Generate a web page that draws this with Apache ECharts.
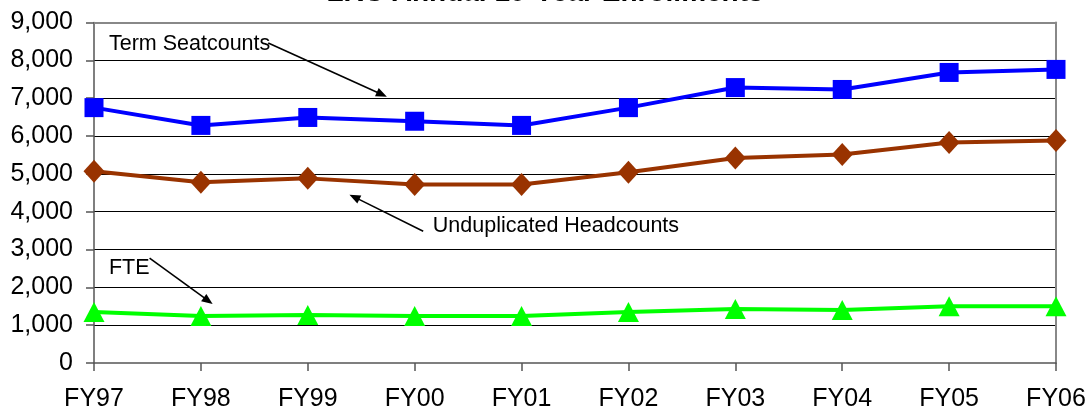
<!DOCTYPE html>
<html><head><meta charset="utf-8">
<script src="https://cdn.jsdelivr.net/npm/echarts@6/dist/echarts.min.js"></script>
<style>html,body{margin:0;padding:0;background:#fff}#c{width:1090px;height:412px}</style>
</head><body><div id="c"></div>
<script>
const categories = ['FY97','FY98','FY99','FY00','FY01','FY02','FY03','FY04','FY05','FY06'];
const termSeatcounts = [6750,6280,6490,6390,6280,6750,7280,7230,7680,7760];
const unduplicatedHeadcounts = [5070,4780,4880,4720,4720,5040,5420,5510,5830,5880];
const fte = [1350,1240,1270,1240,1240,1350,1430,1400,1500,1500];
const yMin = 0, yMax = 9000, yStep = 1000;
const titleText = 'LRC Annual 10-Year Enrollments';
// annotation anchors in data space: [category index, value]
const annotations = [
  {text:'Term Seatcounts', at:[0.14,8430], from:[1.63,8460], to:[2.74,7040]},
  {text:'Unduplicated Headcounts', at:[3.17,3610], from:[3.08,3480], to:[2.39,4450]},
  {text:'FTE', at:[0.14,2520], from:[0.52,2770], to:[1.11,1560]}
];

const FONT = "'Liberation Sans', Arial, sans-serif";
const chart = echarts.init(document.getElementById('c'), null, {renderer:'canvas'});
const option = {
  animation: false,
  backgroundColor: '#fff',
  title: {text: titleText, left: 'center', top: -26,
    textStyle: {fontFamily: FONT, fontSize: 28, fontWeight: 'bold', color: '#000'}},
  grid: {left: 94, right: 34, top: 22.5, bottom: 48, show: false},
  xAxis: [{
    type: 'category', data: categories, boundaryGap: false,
    axisLine: {lineStyle: {color: '#555', width: 1.5}},
    axisTick: {show: true, length: 8, lineStyle: {color: '#555', width: 1.5}},
    axisLabel: {fontFamily: FONT, fontSize: 25, color: '#000', margin: 24, showMinLabel: true, showMaxLabel: true, interval: 0},
    splitLine: {show: false}
  }, {
    type: 'value', min: 0, max: 9, show: false
  }, {
    type: 'category', data: categories, boundaryGap: false, position: 'top',
    axisLine: {lineStyle: {color: '#888', width: 2}}, axisTick: {show: false}, axisLabel: {show: false}
  }],
  yAxis: [{
    type: 'value', min: yMin, max: yMax, interval: yStep,
    axisLine: {show: true, lineStyle: {color: '#555', width: 1.5}},
    axisTick: {show: true, length: 8, lineStyle: {color: '#555', width: 1.5}},
    axisLabel: {fontFamily: FONT, fontSize: 25, color: '#000', margin: 21,
      formatter: v => v.toLocaleString('en-US')},
    splitLine: {show: true, showMaxLine: false, showMinLine: false, lineStyle: {color: '#000', width: 1}}
  }, {
    type: 'value', min: yMin, max: yMax, interval: yStep, position: 'right',
    axisLine: {show: true, lineStyle: {color: '#888', width: 2}}, axisTick: {show: false}, axisLabel: {show: false},
    splitLine: {show: false}
  }],
  series: [
    {name: 'Term Seatcounts', type: 'line', data: termSeatcounts, symbol: 'rect', symbolSize: 19,
      itemStyle: {color: '#0000FF'}, lineStyle: {color: '#0000FF', width: 4}, emphasis: {disabled: true}, z: 5},
    {name: 'Unduplicated Headcounts', type: 'line', data: unduplicatedHeadcounts, symbol: 'diamond', symbolSize: [21, 23],
      itemStyle: {color: '#993300'}, lineStyle: {color: '#993300', width: 4}, emphasis: {disabled: true}, z: 4},
    {name: 'FTE', type: 'line', data: fte, symbol: 'triangle', symbolSize: [21, 20],
      itemStyle: {color: '#00FF00'}, lineStyle: {color: '#00FF00', width: 4}, emphasis: {disabled: true}, z: 3}
  ]
};
chart.setOption(option);

function px(p) { return chart.convertToPixel({xAxisIndex: 1, yAxisIndex: 0}, p); }
const elements = [];
annotations.forEach(a => {
  const t = px(a.at), f = px(a.from), e = px(a.to);
  elements.push({type: 'text', x: t[0], y: t[1], z: 10,
    style: {text: a.text, fontFamily: FONT, fontSize: 21.5, fill: '#000', textAlign: 'left', textVerticalAlign: 'middle'}});
  const dx = e[0]-f[0], dy = e[1]-f[1], len = Math.hypot(dx, dy);
  const ux = dx/len, uy = dy/len, L = 11, W = 4.5;
  const bx = e[0]-ux*L, by = e[1]-uy*L;
  elements.push({type: 'line', z: 10, shape: {x1: f[0], y1: f[1], x2: bx + ux*2, y2: by + uy*2},
    style: {stroke: '#000', lineWidth: 1.6}});
  elements.push({type: 'polygon', z: 10, shape: {points: [[e[0], e[1]], [bx - uy*W, by + ux*W], [bx + uy*W, by - ux*W]]},
    style: {fill: '#000'}});
});
chart.setOption({graphic: {elements}});
</script>
</body></html>
